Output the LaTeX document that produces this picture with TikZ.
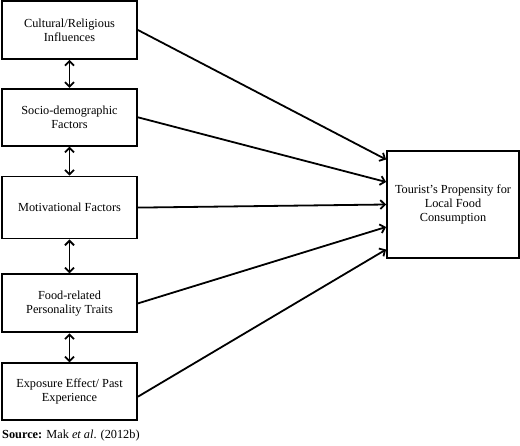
\documentclass[tikz,border=0pt]{standalone}
\usepackage{fontspec}
\setmainfont{Liberation Serif}
\usepackage{tikz}
\usetikzlibrary{arrows,arrows.meta,positioning}
\tikzstyle{factor} = [rectangle, draw=black, line width=1.8pt, text=black, text centered, align=center, font=\fontsize{12.3}{14.3}\selectfont, minimum width=135pt, inner sep=0pt]
\tikzstyle{outcome} = [rectangle, draw=black, line width=1.8pt, text=black, text centered, align=center, font=\fontsize{12.3}{14.3}\selectfont, minimum width=132pt, minimum height=107pt, inner sep=0pt]
\tikzstyle{tedge}  = [draw, line width=1.8pt, >={Straight Barb[length=4.5pt, width=9pt]}, ->]
\tikzstyle{bedge}  = [draw, line width=1.8pt, >={Straight Barb[length=4.5pt, width=9pt]}, <->]

\begin{document}
\begin{tikzpicture}[auto]
\useasboundingbox (0,0) rectangle (520pt,-446pt);

% factors =============================
\node[factor, minimum height=58pt] (cult) at (69.5pt,-30pt) {Cultural/Religious\\Influences};
\node[factor, minimum height=57pt, below=28pt of cult] (socio) {Socio-demographic\\Factors};
\node[factor, minimum height=62pt, below=29pt of socio] (motiv) {Motivational Factors};
\node[factor, minimum height=58pt, below=34pt of motiv] (food) {Food-related\\Personality Traits};
\node[factor, minimum height=57pt, below=29pt of food] (expo) {Exposure Effect/ Past\\Experience};

% outcome
\node[outcome] (tourist) at (453pt,-204.5pt) {Tourist's Propensity for\\Local Food\\Consumption};

% source
\node[anchor=west, inner sep=0pt, font=\fontsize{12.3}{14.3}\selectfont] (src) at (2pt,-436pt) {\textbf{Source:} Mak \textit{et al}. (2012b)};

%edges
\path[bedge] (cult) -- (socio);
\path[bedge] (socio) -- (motiv);
\path[bedge] (motiv) -- (food);
\path[bedge] (food) -- (expo);

\path[tedge] (cult.east) -- ([yshift=45pt]tourist.west);
\path[tedge] (socio.east) -- ([yshift=22.5pt]tourist.west);
\path[tedge] (motiv.east) -- (tourist.west);
\path[tedge] (food.east) -- ([yshift=-22.5pt]tourist.west);
\path[tedge] ([yshift=-5pt]expo.east) -- ([yshift=-45pt]tourist.west);

\end{tikzpicture}
\end{document}
